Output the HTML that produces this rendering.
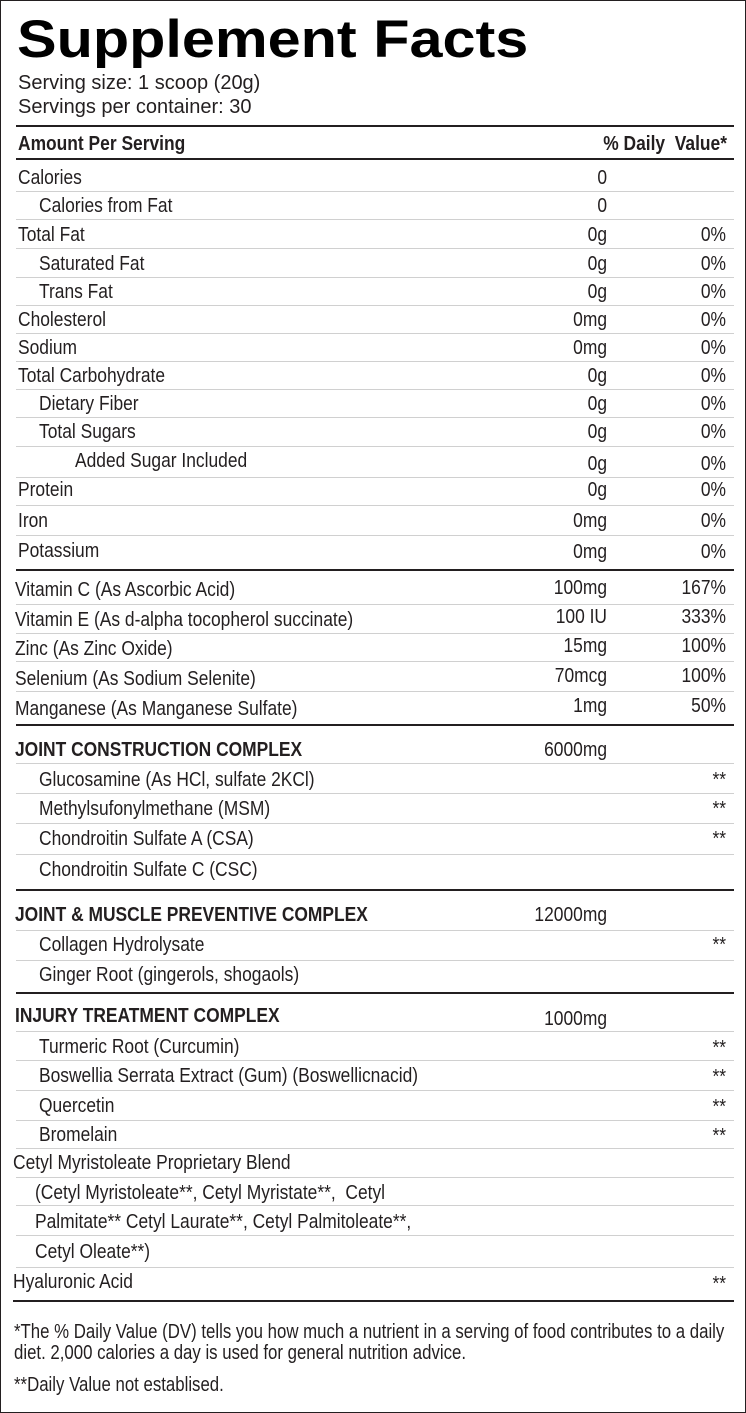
<!DOCTYPE html>
<html><head><meta charset="utf-8"><style>
html,body{margin:0;padding:0;background:#fff;}
#c{position:relative;width:746px;height:1413px;overflow:hidden;background:#fff;font-family:"Liberation Sans",sans-serif;color:#231f20;}
#c div{position:absolute;white-space:nowrap;}
.t{font-size:20px;line-height:22px;transform:scaleX(0.87);transform-origin:left center;margin-top:1px;}
.b{font-weight:bold;}
.r{text-align:right;transform-origin:right center;}
.f{transform:scaleX(0.84);}
.th{left:16px;width:718px;height:2px;background:#231f20;}
.tn{left:16px;width:718px;height:1px;background:#d0d0d0;}
</style></head><body><div id="c">
<div style="left:0;top:0;width:744px;height:1411px;border:1px solid #231f20;border-right:2px solid #231f20;"></div>
<div style="left:17px;top:9px;font-family:'Liberation Sans',sans-serif;font-weight:bold;font-size:53px;line-height:62px;color:#000;transform:scaleX(1.12);transform-origin:left;">Supplement Facts</div>
<div style="left:18px;top:72px;font-size:20px;line-height:22px;">Serving size: 1 scoop (20g)</div>
<div style="left:18px;top:96px;font-size:20px;line-height:22px;">Servings per container: 30</div>
<div class="th" style="top:125px;"></div>
<div class="t b" style="left:18px;top:132px;">Amount Per Serving</div>
<div class="t b r" style="left:500px;width:227px;top:132px;">% Daily&nbsp; Value*</div>
<div class="th" style="top:158px;"></div>

<div class="t" style="left:18px;top:166px;">Calories</div><div class="t r" style="left:500px;width:107px;top:166px;">0</div>
<div class="tn" style="top:191px;"></div>
<div class="t" style="left:39px;top:194px;">Calories from Fat</div><div class="t r" style="left:500px;width:107px;top:194px;">0</div>
<div class="tn" style="top:219px;"></div>
<div class="t" style="left:18px;top:223px;">Total Fat</div><div class="t r" style="left:500px;width:107px;top:223px;">0g</div><div class="t r" style="left:620px;width:106px;top:223px;">0%</div>
<div class="tn" style="top:248px;"></div>
<div class="t" style="left:39px;top:252px;">Saturated Fat</div><div class="t r" style="left:500px;width:107px;top:252px;">0g</div><div class="t r" style="left:620px;width:106px;top:252px;">0%</div>
<div class="tn" style="top:277px;"></div>
<div class="t" style="left:39px;top:280px;">Trans Fat</div><div class="t r" style="left:500px;width:107px;top:280px;">0g</div><div class="t r" style="left:620px;width:106px;top:280px;">0%</div>
<div class="tn" style="top:305px;"></div>
<div class="t" style="left:18px;top:308px;">Cholesterol</div><div class="t r" style="left:500px;width:107px;top:308px;">0mg</div><div class="t r" style="left:620px;width:106px;top:308px;">0%</div>
<div class="tn" style="top:333px;"></div>
<div class="t" style="left:18px;top:336px;">Sodium</div><div class="t r" style="left:500px;width:107px;top:336px;">0mg</div><div class="t r" style="left:620px;width:106px;top:336px;">0%</div>
<div class="tn" style="top:361px;"></div>
<div class="t" style="left:18px;top:364px;">Total Carbohydrate</div><div class="t r" style="left:500px;width:107px;top:364px;">0g</div><div class="t r" style="left:620px;width:106px;top:364px;">0%</div>
<div class="tn" style="top:389px;"></div>
<div class="t" style="left:39px;top:392px;">Dietary Fiber</div><div class="t r" style="left:500px;width:107px;top:392px;">0g</div><div class="t r" style="left:620px;width:106px;top:392px;">0%</div>
<div class="tn" style="top:417px;"></div>
<div class="t" style="left:39px;top:420px;">Total Sugars</div><div class="t r" style="left:500px;width:107px;top:420px;">0g</div><div class="t r" style="left:620px;width:106px;top:420px;">0%</div>
<div class="tn" style="top:446px;"></div>
<div class="t" style="left:75px;top:449px;">Added Sugar Included</div><div class="t r" style="left:500px;width:107px;top:452px;">0g</div><div class="t r" style="left:620px;width:106px;top:452px;">0%</div>
<div class="tn" style="top:477px;"></div>
<div class="t" style="left:18px;top:478px;">Protein</div><div class="t r" style="left:500px;width:107px;top:478px;">0g</div><div class="t r" style="left:620px;width:106px;top:478px;">0%</div>
<div class="tn" style="top:505px;"></div>
<div class="t" style="left:18px;top:509px;">Iron</div><div class="t r" style="left:500px;width:107px;top:509px;">0mg</div><div class="t r" style="left:620px;width:106px;top:509px;">0%</div>
<div class="tn" style="top:535px;"></div>
<div class="t" style="left:18px;top:539px;">Potassium</div><div class="t r" style="left:500px;width:107px;top:540px;">0mg</div><div class="t r" style="left:620px;width:106px;top:540px;">0%</div>
<div class="th" style="top:569px;"></div>

<div class="t" style="left:15px;top:578px;">Vitamin C (As Ascorbic Acid)</div><div class="t r" style="left:500px;width:107px;top:576px;">100mg</div><div class="t r" style="left:620px;width:106px;top:576px;">167%</div>
<div class="tn" style="top:604px;"></div>
<div class="t" style="left:15px;top:608px;">Vitamin E (As d-alpha tocopherol succinate)</div><div class="t r" style="left:500px;width:107px;top:605px;">100 IU</div><div class="t r" style="left:620px;width:106px;top:605px;">333%</div>
<div class="tn" style="top:633px;"></div>
<div class="t" style="left:15px;top:637px;">Zinc (As Zinc Oxide)</div><div class="t r" style="left:500px;width:107px;top:634px;">15mg</div><div class="t r" style="left:620px;width:106px;top:634px;">100%</div>
<div class="tn" style="top:661px;"></div>
<div class="t" style="left:15px;top:667px;">Selenium (As Sodium Selenite)</div><div class="t r" style="left:500px;width:107px;top:664px;">70mcg</div><div class="t r" style="left:620px;width:106px;top:664px;">100%</div>
<div class="tn" style="top:691px;"></div>
<div class="t" style="left:15px;top:697px;">Manganese (As Manganese Sulfate)</div><div class="t r" style="left:500px;width:107px;top:694px;">1mg</div><div class="t r" style="left:620px;width:106px;top:694px;">50%</div>
<div class="th" style="top:724px;"></div>

<div class="t b" style="left:15px;top:738px;">JOINT CONSTRUCTION COMPLEX</div><div class="t r" style="left:500px;width:107px;top:738px;">6000mg</div>
<div class="tn" style="top:763px;"></div>
<div class="t" style="left:39px;top:768px;">Glucosamine (As HCl, sulfate 2KCl)</div><div class="t r" style="left:620px;width:106px;top:768px;">**</div>
<div class="tn" style="top:793px;"></div>
<div class="t" style="left:39px;top:797px;">Methylsufonylmethane (MSM)</div><div class="t r" style="left:620px;width:106px;top:797px;">**</div>
<div class="tn" style="top:823px;"></div>
<div class="t" style="left:39px;top:827px;">Chondroitin Sulfate A (CSA)</div><div class="t r" style="left:620px;width:106px;top:827px;">**</div>
<div class="tn" style="top:854px;"></div>
<div class="t" style="left:39px;top:858px;">Chondroitin Sulfate C (CSC)</div>
<div class="th" style="top:889px;"></div>

<div class="t b" style="left:15px;top:903px;">JOINT &amp; MUSCLE PREVENTIVE COMPLEX</div><div class="t r" style="left:500px;width:107px;top:903px;">12000mg</div>
<div class="tn" style="top:930px;"></div>
<div class="t" style="left:39px;top:933px;">Collagen Hydrolysate</div><div class="t r" style="left:620px;width:106px;top:933px;">**</div>
<div class="tn" style="top:960px;"></div>
<div class="t" style="left:39px;top:963px;">Ginger Root (gingerols, shogaols)</div>
<div class="th" style="top:992px;"></div>

<div class="t b" style="left:15px;top:1004px;">INJURY TREATMENT COMPLEX</div><div class="t r" style="left:500px;width:107px;top:1007px;">1000mg</div>
<div class="tn" style="top:1031px;"></div>
<div class="t" style="left:39px;top:1035px;">Turmeric Root (Curcumin)</div><div class="t r" style="left:620px;width:106px;top:1036px;">**</div>
<div class="tn" style="top:1060px;"></div>
<div class="t" style="left:39px;top:1064px;">Boswellia Serrata Extract (Gum) (Boswellicnacid)</div><div class="t r" style="left:620px;width:106px;top:1065px;">**</div>
<div class="tn" style="top:1090px;"></div>
<div class="t" style="left:39px;top:1094px;">Quercetin</div><div class="t r" style="left:620px;width:106px;top:1095px;">**</div>
<div class="tn" style="top:1120px;"></div>
<div class="t" style="left:39px;top:1123px;">Bromelain</div><div class="t r" style="left:620px;width:106px;top:1124px;">**</div>
<div class="tn" style="top:1148px;"></div>
<div class="t" style="left:13px;top:1151px;">Cetyl Myristoleate Proprietary Blend</div>
<div class="tn" style="top:1177px;"></div>
<div class="t" style="left:35px;top:1181px;">(Cetyl Myristoleate**, Cetyl Myristate**,&nbsp; Cetyl</div>
<div class="tn" style="top:1205px;"></div>
<div class="t" style="left:35px;top:1210px;">Palmitate** Cetyl Laurate**, Cetyl Palmitoleate**,</div>
<div class="tn" style="top:1235px;"></div>
<div class="t" style="left:35px;top:1240px;">Cetyl Oleate**)</div>
<div class="tn" style="top:1267px;"></div>
<div class="t" style="left:13px;top:1270px;">Hyaluronic Acid</div><div class="t r" style="left:620px;width:106px;top:1272px;">**</div>
<div class="th" style="top:1300px;left:13px;width:721px;"></div>

<div class="t f" style="left:14px;top:1320px;">*The % Daily Value (DV) tells you how much a nutrient in a serving of food contributes to a daily</div>
<div class="t f" style="left:14px;top:1341px;">diet. 2,000 calories a day is used for general nutrition advice.</div>
<div class="t f" style="left:14px;top:1373px;">**Daily Value not establised.</div>
</div></body></html>
